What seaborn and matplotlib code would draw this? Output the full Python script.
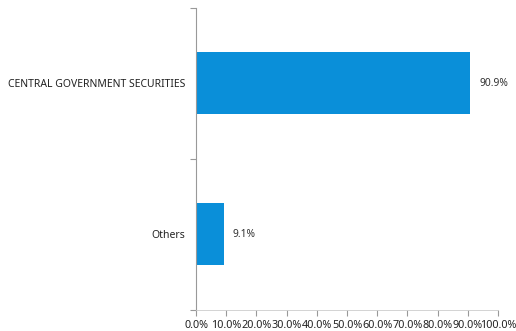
import matplotlib
matplotlib.use("Agg")
import matplotlib.pyplot as plt
import seaborn as sns
import pandas as pd
from matplotlib.ticker import FixedLocator, PercentFormatter

categories = ["CENTRAL GOVERNMENT SECURITIES", "Others"]
shares = [90.9, 9.1]
value_labels = ["90.9%", "9.1%"]

sns.set_style("white")
plt.rcParams["font.family"] = ["Noto Sans", "DejaVu Sans"]

df = pd.DataFrame({"category": categories, "share": shares})

fig = plt.figure(figsize=(5.16, 3.31), dpi=100)
ax = fig.add_axes([0.380, 0.064, 0.585, 0.912])

sns.barplot(data=df, x="share", y="category", orient="h", color="#0A8FD9",
            saturation=1, width=0.41, linewidth=0, ax=ax)

for patch, lab in zip(ax.patches, value_labels):
    ax.text(patch.get_width() + 3, patch.get_y() + patch.get_height() / 2, lab,
            va="center", ha="left", fontsize=7.4, color="#333333")

ax.set_xlim(0, 100)
ax.set_ylim(1.5, -0.5)
ax.set_xticks(range(0, 101, 10))
ax.xaxis.set_major_formatter(PercentFormatter(decimals=1))
ax.set_xlabel("")
ax.set_ylabel("")

ax.yaxis.set_minor_locator(FixedLocator([-0.5, 0.5, 1.5]))
ax.tick_params(axis="y", which="major", length=0, pad=8, labelsize=7.5, labelcolor="#222222")
ax.tick_params(axis="y", which="minor", length=4, width=0.8, color="#999999", left=True)
ax.tick_params(axis="x", which="major", length=4, width=0.8, color="#999999", bottom=True,
               labelsize=7.8, labelcolor="#222222", pad=3)

for side in ["top", "right"]:
    ax.spines[side].set_visible(False)
ax.spines["left"].set_color("#999999")
ax.spines["left"].set_linewidth(0.8)
ax.spines["bottom"].set_color("#cccccc")
ax.spines["bottom"].set_linewidth(0.6)

fig.savefig("out.png", dpi=100)
